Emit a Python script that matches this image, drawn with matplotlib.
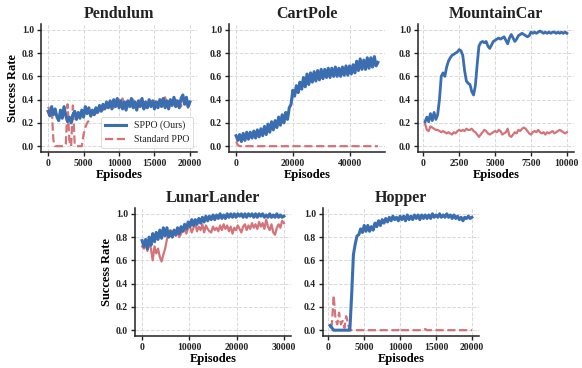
import matplotlib
matplotlib.use('Agg')
import matplotlib.pyplot as plt

plt.rcParams['font.family'] = ['Liberation Serif', 'DejaVu Serif']
plt.rcParams['font.weight'] = 'bold'
plt.rcParams['text.color'] = '#222222'
plt.rcParams['xtick.color'] = '#222222'
plt.rcParams['ytick.color'] = '#222222'

BLUE = '#3b6db1'
RED = '#d0646a'

# ---- data ----
pend_x = list(range(0, 20001, 250))
pend_sppo = [0.30, 0.26, 0.34, 0.27, 0.32, 0.25, 0.22, 0.31, 0.24, 0.34,
             0.26, 0.21, 0.25, 0.20, 0.27, 0.30, 0.23, 0.29, 0.24, 0.31,
             0.25, 0.34, 0.28, 0.33, 0.26, 0.31, 0.27, 0.33, 0.29, 0.35,
             0.30, 0.36, 0.32, 0.38, 0.33, 0.39, 0.32, 0.40, 0.34, 0.41,
             0.33, 0.39, 0.32, 0.38, 0.31, 0.39, 0.34, 0.41, 0.33, 0.38,
             0.31, 0.39, 0.34, 0.41, 0.32, 0.38, 0.33, 0.40, 0.34, 0.39,
             0.32, 0.38, 0.33, 0.40, 0.34, 0.41, 0.33, 0.39, 0.32, 0.40,
             0.35, 0.42, 0.34, 0.39, 0.33, 0.41, 0.44, 0.36, 0.42, 0.34,
             0.38]
pend_ppo = [0.34, 0.30, 0.33, 0.05, 0.00, 0.00, 0.00, 0.00, 0.00, 0.00,
            0.02, 0.36, 0.05, 0.00, 0.35, 0.02, 0.00, 0.00, 0.00, 0.00,
            0.10, 0.16, 0.20, 0.22, 0.25, 0.28, 0.30, 0.27, 0.32, 0.30,
            0.34, 0.31, 0.36, 0.33, 0.38, 0.34, 0.37, 0.33, 0.39, 0.35,
            0.40, 0.36, 0.41, 0.35, 0.38, 0.34, 0.39, 0.36, 0.40, 0.35,
            0.38, 0.34, 0.40, 0.36, 0.39, 0.33, 0.38, 0.35, 0.40, 0.36,
            0.39, 0.34, 0.38, 0.35, 0.40, 0.36, 0.42, 0.35, 0.39, 0.34,
            0.38, 0.35, 0.40, 0.36, 0.39, 0.34, 0.41, 0.35, 0.38, 0.33,
            0.34]

cart_x = list(range(0, 50001, 625))
cart_sppo = [0.09, 0.05, 0.10, 0.04, 0.11, 0.05, 0.12, 0.06, 0.12, 0.07,
             0.13, 0.07, 0.14, 0.08, 0.15, 0.09, 0.17, 0.10, 0.19, 0.12,
             0.21, 0.14, 0.22, 0.16, 0.25, 0.18, 0.27, 0.20, 0.29, 0.23,
             0.33, 0.36, 0.48, 0.43, 0.52, 0.46, 0.55, 0.49, 0.59, 0.51,
             0.62, 0.53, 0.63, 0.55, 0.64, 0.56, 0.65, 0.57, 0.66, 0.58,
             0.66, 0.59, 0.67, 0.59, 0.67, 0.60, 0.68, 0.60, 0.67, 0.60,
             0.68, 0.61, 0.69, 0.61, 0.69, 0.62, 0.70, 0.63, 0.73, 0.65,
             0.75, 0.66, 0.74, 0.66, 0.76, 0.67, 0.76, 0.68, 0.77, 0.69,
             0.72]
cart_ppo = [0.04, 0.01] + [0.0] * 79

mc_x = list(range(125, 10001, 125))
mc_sppo = [0.21, 0.25, 0.21, 0.28, 0.22, 0.29, 0.23, 0.27, 0.40, 0.60,
           0.63, 0.60, 0.68, 0.73, 0.76, 0.78, 0.79, 0.80, 0.81, 0.83,
           0.82, 0.78, 0.65, 0.56, 0.54, 0.53, 0.47, 0.44, 0.52, 0.70,
           0.86, 0.89, 0.90, 0.89, 0.90, 0.86, 0.84, 0.87, 0.90, 0.91,
           0.92, 0.93, 0.92, 0.93, 0.94, 0.91, 0.88, 0.93, 0.96, 0.93,
           0.90, 0.92, 0.95, 0.96, 0.97, 0.96, 0.95, 0.94, 0.95, 0.98,
           0.97, 0.98, 0.97, 0.98, 0.99, 0.98, 0.97, 0.98, 0.97, 0.98,
           0.97, 0.98, 0.98, 0.97, 0.98, 0.97, 0.98, 0.97, 0.98, 0.97]
mc_ppo = [0.19, 0.14, 0.13, 0.17, 0.16, 0.15, 0.14, 0.14, 0.13, 0.12,
          0.13, 0.12, 0.11, 0.12, 0.11, 0.10, 0.12, 0.11, 0.13, 0.14,
          0.13, 0.14, 0.13, 0.15, 0.14, 0.14, 0.15, 0.13, 0.12, 0.10,
          0.08, 0.10, 0.12, 0.14, 0.13, 0.11, 0.10, 0.11, 0.12, 0.13,
          0.12, 0.14, 0.13, 0.10, 0.11, 0.12, 0.15, 0.09, 0.08, 0.10,
          0.12, 0.11, 0.14, 0.13, 0.15, 0.16, 0.15, 0.13, 0.11, 0.10,
          0.12, 0.13, 0.12, 0.14, 0.12, 0.11, 0.12, 0.10, 0.12, 0.11,
          0.12, 0.13, 0.11, 0.12, 0.13, 0.14, 0.13, 0.12, 0.11, 0.12]

lunar_x = list(range(0, 30001, 375))
lunar_sppo = [0.77, 0.72, 0.78, 0.70, 0.80, 0.73, 0.83, 0.76, 0.84, 0.78,
              0.86, 0.79, 0.88, 0.81, 0.88, 0.80, 0.85, 0.80, 0.86, 0.82,
              0.88, 0.83, 0.89, 0.85, 0.91, 0.87, 0.93, 0.89, 0.95, 0.90,
              0.95, 0.91, 0.96, 0.92, 0.97, 0.93, 0.98, 0.94, 0.98, 0.95,
              0.99, 0.95, 0.99, 0.96, 1.00, 0.96, 0.99, 0.96, 1.00, 0.97,
              1.00, 0.97, 1.00, 0.97, 1.00, 0.98, 1.00, 0.97, 1.00, 0.97,
              1.00, 0.98, 1.00, 0.97, 1.00, 0.97, 1.00, 0.98, 1.00, 0.97,
              0.99, 0.97, 1.00, 0.97, 0.99, 0.97, 1.00, 0.97, 0.99, 0.97,
              0.98]
lunar_ppo = [0.72, 0.70, 0.74, 0.68, 0.75, 0.70, 0.60, 0.72, 0.66, 0.70,
             0.63, 0.59, 0.65, 0.70, 0.78, 0.83, 0.86, 0.80, 0.85, 0.81,
             0.84, 0.80, 0.83, 0.86, 0.86, 0.83, 0.88, 0.89, 0.84, 0.88,
             0.92, 0.85, 0.89, 0.86, 0.91, 0.84, 0.90, 0.87, 0.85, 0.84,
             0.89, 0.86, 0.88, 0.85, 0.90, 0.86, 0.91, 0.87, 0.90, 0.85,
             0.89, 0.83, 0.88, 0.86, 0.90, 0.87, 0.84, 0.89, 0.91, 0.86,
             0.90, 0.87, 0.92, 0.88, 0.91, 0.87, 0.93, 0.89, 0.92, 0.87,
             0.95, 0.89, 0.86, 0.91, 0.84, 0.82, 0.88, 0.91, 0.88, 0.94,
             0.92]

hop_x = list(range(250, 20001, 250))
hop_sppo = [0.04, 0.02, 0.00, 0.00, 0.00, 0.00, 0.00, 0.00, 0.00, 0.00,
            0.00, 0.00, 0.30, 0.65, 0.74, 0.81, 0.82, 0.87, 0.84, 0.90,
            0.85, 0.90, 0.85, 0.89, 0.86, 0.92, 0.89, 0.94, 0.90, 0.95,
            0.92, 0.96, 0.93, 0.97, 0.94, 0.98, 0.95, 0.97, 0.94, 0.98,
            0.95, 0.98, 0.94, 0.99, 0.95, 0.98, 0.95, 0.99, 0.96, 0.99,
            0.95, 0.99, 0.96, 0.99, 0.96, 0.99, 0.96, 1.00, 0.97, 0.99,
            0.97, 1.00, 0.97, 0.99, 0.97, 1.00, 0.97, 0.99, 0.96, 0.99,
            0.96, 0.98, 0.95, 0.97, 0.94, 0.97, 0.96, 0.98, 0.96, 0.97]
hop_ppo = [0.02, 0.05, 0.30, 0.10, 0.05, 0.15, 0.05, 0.08, 0.02, 0.12,
           0.05, 0.00] + [0.0] * 27 + [0.02] + [0.0] * 13 + [0.01] + [0.0] * 26

panels = [
    ('Pendulum', pend_x, pend_sppo, pend_x, pend_ppo, [0, 5000, 10000, 15000, 20000]),
    ('CartPole', cart_x, cart_sppo, cart_x, cart_ppo, [0, 20000, 40000]),
    ('MountainCar', mc_x, mc_sppo, mc_x, mc_ppo, [0, 2500, 5000, 7500, 10000]),
    ('LunarLander', lunar_x, lunar_sppo, lunar_x, lunar_ppo, [0, 10000, 20000, 30000]),
    ('Hopper', hop_x, hop_sppo, hop_x, hop_ppo, [0, 5000, 10000, 15000, 20000]),
]

W, H = 582, 368
boxes = [(41, 24), (229, 24), (418, 24), (135, 208), (323, 208)]
aw, ah = 156, 128

fig = plt.figure(figsize=(5.82, 3.68), dpi=100)

for i, (name, xs, ys, xr, yr, xt) in enumerate(panels):
    left, top = boxes[i]
    ax = fig.add_axes([left / W, 1 - (top + ah) / H, aw / W, ah / H])
    ax.grid(True, linestyle='--', color='#d9d9d9', linewidth=0.7)
    ax.set_axisbelow(True)
    lw_b = 2.0 if name == 'MountainCar' else 2.2
    ax.plot(xs, ys, color=BLUE, linewidth=lw_b, label='SPPO (Ours)', zorder=3)
    ls = '-' if name in ('MountainCar', 'LunarLander') else '--'
    ax.plot(xr, yr, color=RED, linewidth=1.6, linestyle=ls, alpha=0.9,
            label='Standard PPO', zorder=2)
    ax.set_ylim(-0.05, 1.05)
    ax.set_yticks([0.0, 0.2, 0.4, 0.6, 0.8, 1.0])
    ax.set_yticklabels(['%.1f' % v for v in ax.get_yticks()])
    ax.set_xticks(xt)
    ax.tick_params(labelsize=7, length=3, width=1, direction='out', pad=2)
    for lab in ax.get_xticklabels() + ax.get_yticklabels():
        lab.set_fontweight('bold')
    for s in ['top', 'right']:
        ax.spines[s].set_visible(False)
    for s in ['left', 'bottom']:
        ax.spines[s].set_linewidth(1.1)
        ax.spines[s].set_color('#222222')
    ax.set_title(name, fontsize=11.5, fontweight='bold', pad=4)
    ax.set_xlabel('Episodes', fontsize=9, fontweight='bold', labelpad=1)
    if name in ('Pendulum', 'LunarLander'):
        ax.set_ylabel('Success Rate', fontsize=9, fontweight='bold', labelpad=2)
    if name == 'Pendulum':
        leg = ax.legend(loc='lower right', frameon=True,
                        prop={'size': 7, 'weight': 'normal'},
                        handlelength=2.2, borderaxespad=0.4, framealpha=0.8)
        leg.get_frame().set_edgecolor('#cccccc')
        leg.get_frame().set_linewidth(0.6)

fig.savefig('out.png', dpi=100)
